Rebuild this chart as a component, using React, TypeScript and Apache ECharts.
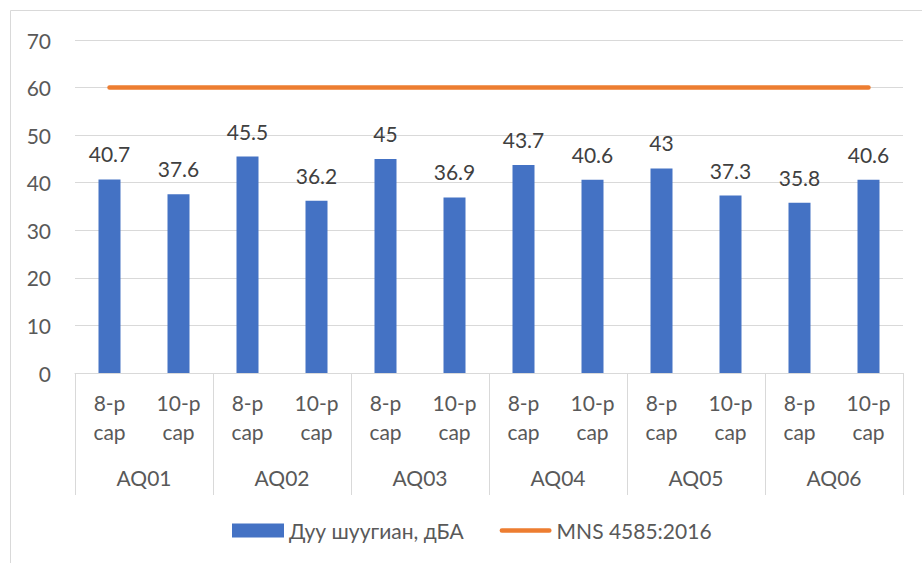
import React, { useEffect, useRef } from "react";
import * as echarts from "echarts";

const months = ["8-р\nсар", "10-р\nсар", "8-р\nсар", "10-р\nсар", "8-р\nсар", "10-р\nсар", "8-р\nсар", "10-р\nсар", "8-р\nсар", "10-р\nсар", "8-р\nсар", "10-р\nсар"];
const stations = ["AQ01", "AQ02", "AQ03", "AQ04", "AQ05", "AQ06"];
const noiseValues = [40.7, 37.6, 45.5, 36.2, 45, 36.9, 43.7, 40.6, 43, 37.3, 35.8, 40.6];
const standardValues = [60, 60, 60, 60, 60, 60, 60, 60, 60, 60, 60, 60];
const seriesNames = ["Дуу шуугиан, дБА", "MNS 4585:2016"];

const FONT = "Lato, 'Noto Sans', sans-serif";
const GREY = "#595959";
const FS = 21;

export default function App() {
  const ref = useRef<HTMLDivElement>(null);
  useEffect(() => {
    if (!ref.current) return;
    const chart = echarts.init(ref.current, undefined, { renderer: "svg" });
    chart.setOption({
      animation: false,
      textStyle: { fontFamily: FONT },
      graphic: [
        {
          type: "rect",
          shape: { x: 10.5, y: 10.5, width: 1000, height: 1000 },
          style: { fill: "none", stroke: "#d9d9d9", lineWidth: 1 },
          silent: true,
        },
      ],
      grid: { left: 75, right: 19, top: 40, bottom: 190, containLabel: false },
      legend: {
        left: 227,
        top: 515,
        itemWidth: 52,
        itemHeight: 14,
        itemGap: 36,
        textStyle: { fontSize: FS, color: GREY, fontFamily: FONT },
        data: [
          { name: seriesNames[0], icon: "rect" },
          {
            name: seriesNames[1],
            icon: "path://M2.5,0H54.5A2.5,2.5,0,0,1,54.5,5H2.5A2.5,2.5,0,0,1,2.5,0Z",
          },
        ],
      },
      xAxis: [
        {
          type: "category",
          data: months,
          position: "bottom",
          axisLine: { show: true, lineStyle: { color: "#d9d9d9", width: 1 } },
          axisTick: { show: false },
          axisLabel: {
            interval: 0,
            margin: 15,
            fontSize: FS,
            lineHeight: 29,
            color: GREY,
            fontFamily: FONT,
          },
        },
        {
          type: "category",
          data: stations,
          position: "bottom",
          axisLine: { show: false },
          axisTick: {
            show: true,
            length: 122,
            interval: 0,
            lineStyle: { color: "#d9d9d9", width: 1 },
          },
          axisLabel: {
            interval: 0,
            margin: 94,
            fontSize: FS,
            color: GREY,
            fontFamily: FONT,
          },
        },
      ],
      yAxis: {
        type: "value",
        min: 0,
        max: 70,
        interval: 10,
        axisLine: { show: false },
        axisTick: { show: false },
        splitLine: { lineStyle: { color: "#d9d9d9", width: 1 } },
        axisLabel: { fontSize: FS, color: GREY, margin: 24, fontFamily: FONT },
      },
      series: [
        {
          name: seriesNames[0],
          type: "bar",
          xAxisIndex: 0,
          data: noiseValues,
          barWidth: 22,
          itemStyle: { color: "#4472C4" },
          label: {
            show: true,
            position: "top",
            distance: 15,
            fontSize: FS,
            color: "#404040",
            fontFamily: FONT,
          },
        },
        {
          name: seriesNames[1],
          type: "line",
          xAxisIndex: 0,
          data: standardValues,
          symbol: "none",
          lineStyle: { color: "#ED7D31", width: 4.5, cap: "round" },
          itemStyle: { color: "#ED7D31" },
        },
      ],
    });
    return () => chart.dispose();
  }, []);
  return <div ref={ref} style={{ width: 922, height: 563, position: "absolute", left: 0, top: 0 }} />;
}
